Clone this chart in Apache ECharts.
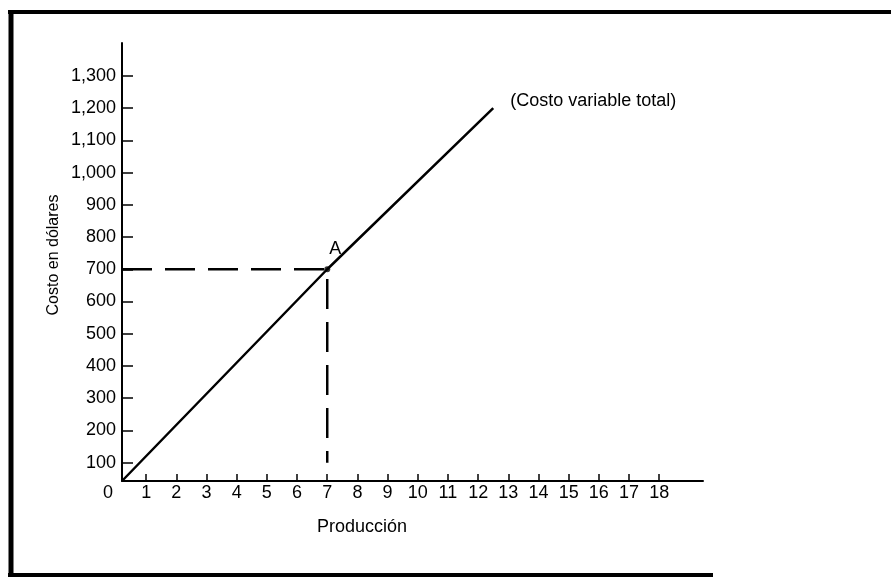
<!DOCTYPE html>
<html>
<head>
<meta charset="utf-8">
<script src="https://cdn.jsdelivr.net/npm/echarts@6/dist/echarts.min.js"></script>
<style>
  html, body { margin: 0; padding: 0; background: #fff; }
  #chart { width: 891px; height: 585px; }
</style>
</head>
<body>
<div id="chart"></div>
<script>
// axis ranges (the axes cross a bit above/right of 0,0 in the drawing)
var xRange = [0.2, 19.45];
var yRange = [43, 1402];
var xTicks = [1, 2, 3, 4, 5, 6, 7, 8, 9, 10, 11, 12, 13, 14, 15, 16, 17, 18];
var yTicks = [100, 200, 300, 400, 500, 600, 700, 800, 900, 1000, 1100, 1200, 1300];

// total variable cost line: starts at the axes corner, through A, ends at 1,200
var costLine = [[0.2, 43], [7, 700], [12.5, 1200]];
// dashed guides to point A
var guideLine = [[0.2, 700], [7, 700], [7, 100]];
var pointA = [[7, 700]];

var font = "'Liberation Sans', Arial, sans-serif";
var chart = echarts.init(document.getElementById("chart"));

chart.setOption({
  backgroundColor: "#fff",
  animation: false,
  textStyle: { fontFamily: font, color: "#000" },
  grid: { left: 122, right: 188, top: 43, bottom: 104 },
  xAxis: {
    type: "value",
    min: xRange[0],
    max: xRange[1],
    axisLine: { lineStyle: { color: "#000", width: 2 } },
    axisTick: {
      inside: true,
      length: 7,
      customValues: xTicks,
      lineStyle: { color: "#000", width: 1.5 }
    },
    axisLabel: {
      customValues: [xRange[0]].concat(xTicks),
      margin: 3,
      fontSize: 18,
      color: "#000",
      fontFamily: font,
      formatter: function (v) {
        return v < 1 ? "{z|0}" : String(v);
      },
      rich: { z: { fontSize: 18, fontFamily: font, color: "#000", padding: [0, 28, 0, 0] } }
    },
    splitLine: { show: false }
  },
  yAxis: {
    type: "value",
    min: yRange[0],
    max: yRange[1],
    axisLine: { lineStyle: { color: "#000", width: 2 } },
    axisTick: {
      inside: true,
      length: 11,
      customValues: yTicks,
      lineStyle: { color: "#000", width: 1.5 }
    },
    axisLabel: {
      customValues: yTicks,
      margin: 6,
      fontSize: 18,
      color: "#000",
      fontFamily: font,
      formatter: function (v) {
        return v.toLocaleString("en-US");
      }
    },
    splitLine: { show: false }
  },
  graphic: [
    { type: "line", shape: { x1: 8, y1: 12, x2: 891, y2: 12 }, style: { stroke: "#000", lineWidth: 4 } },
    { type: "line", shape: { x1: 11, y1: 10, x2: 11, y2: 577 }, style: { stroke: "#000", lineWidth: 5 } },
    { type: "line", shape: { x1: 8, y1: 575, x2: 713, y2: 575 }, style: { stroke: "#000", lineWidth: 4 } },
    {
      type: "text", left: 317, top: 518,
      style: { text: "Producción", font: "18px " + font, fill: "#000" }
    },
    {
      type: "text", x: 54, y: 255, rotation: Math.PI / 2,
      style: { text: "Costo en dólares", font: "16px " + font, fill: "#000", align: "center", verticalAlign: "middle" }
    }
  ],
  series: [
    {
      type: "line",
      data: guideLine,
      symbol: "none",
      lineStyle: { color: "#000", width: 2.5, type: [30, 13] },
      z: 2
    },
    {
      type: "line",
      data: costLine,
      symbol: "none",
      lineStyle: { color: "#000", width: 2.5 },
      endLabel: {
        show: true,
        formatter: "(Costo variable total)",
        fontSize: 18,
        fontFamily: font,
        color: "#000",
        distance: 17,
        offset: [0, -7]
      },
      z: 3
    },
    {
      type: "scatter",
      data: pointA,
      symbol: "circle",
      symbolSize: 6,
      itemStyle: { color: "#000" },
      emphasis: { disabled: true },
      label: {
        show: true,
        position: "top",
        distance: 8,
        offset: [8, 0],
        formatter: "A",
        fontSize: 18,
        fontFamily: font,
        color: "#000",
        opacity: 1
      },
      z: 4
    }
  ]
});
</script>
</body>
</html>
